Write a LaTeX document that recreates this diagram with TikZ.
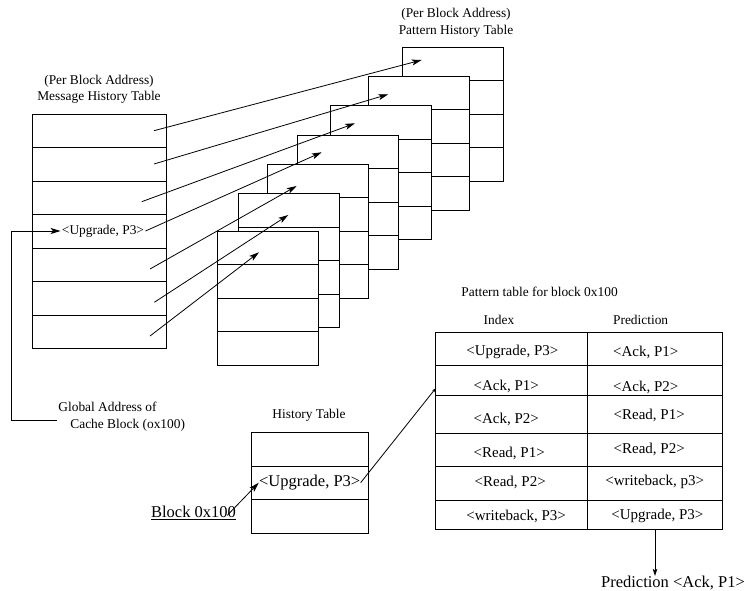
\documentclass[tikz,border=0pt]{standalone}
\usepackage{fontspec}
\setmainfont{Liberation Serif}
\usetikzlibrary{arrows.meta}

\begin{document}
\begin{tikzpicture}[x=1bp,y=-1bp,line width=.8bp,
  lbl/.style={inner sep=1bp,font=\fontsize{13.4bp}{16.5bp}\selectfont},
  cell/.style={inner sep=0pt,anchor=west,font=\fontsize{15bp}{18bp}\selectfont},
  big/.style={inner sep=0pt,font=\fontsize{16.5bp}{19bp}\selectfont},
  arr/.style={-{Stealth[length=10bp,width=6bp,inset=2.5bp]}},
  sarr/.style={-{Stealth[length=7bp,width=4.5bp,inset=1.5bp]}}]
\useasboundingbox (0,0) rectangle (745,591);

% message history table
\node[lbl,align=center] (mtitle) at (99,89.5) {(Per Block Address)\\Message History Table};
\draw (32,114) rectangle (166,348.5);
\foreach \r in {1,...,6}{\draw (32,114+33.5*\r)--(166,114+33.5*\r);}
\node[lbl] (mup) at (103,231) {<Upgrade, P3>};

% pattern history tables, back to front
\foreach \px/\py in {402/47,368.3/76.3,330.3/105.7,297/135,267.7/164.3,238.3/193.7,217.3/231.3}{
  \draw[fill=white] (\px,\py) rectangle ++(101,134);
  \foreach \k in {1,2,3}{\draw (\px,\py+33.5*\k)--++(101,0);}
}
\node[lbl,align=center] (ptitle) at (456,23) {(Per Block Address)\\Pattern History Table};

% one arrow per row
\foreach \n/\sx/\sy/\tx/\ty in {1/154/130.7/421.7/60,2/154/164/388.3/94.3,3/141.7/201.7/355/123.3,
  5/150/269/296.7/186,6/154.3/302.3/288.3/215,7/150/336/259/252.3}{
  \coordinate (ms\n) at (\sx,\sy); \coordinate (pt\n) at (\tx,\ty);
  \draw[arr] (ms\n)--(pt\n);}
\coordinate (pt4) at (321.7,152.3);
\draw[arr] (mup.east)--(pt4);

% global address
\node[lbl,align=left,anchor=west] (gaddr) at (57,416.7) {Global Address of\\\hspace*{12bp}Cache Block (ox100)};
\draw[arr] ([yshift=-3.3bp]gaddr.west) -- ++(-46,0) |- (mup.west);

% history table
\node[lbl] (htitle) at (309,415.7) {History Table};
\draw (251,432.7) rectangle (368.3,533.3);
\draw (251,466)--(368.3,466) (251,499.3)--(368.3,499.3);
\node[big] (hup) at (309.7,482.7) {<Upgrade, P3>};
\node[big,anchor=base west] (blk) at (150.7,517.3) {\underline{Block 0x100}};
\draw[arr] ([xshift=-9bp,yshift=2bp]blk.base east) -- (hup.west);

% pattern table
\node[lbl,anchor=west] (pttitle) at (460,291.7) {Pattern table for block 0x100};
\node[lbl,anchor=west] (idx) at (482.3,320) {Index};
\node[lbl,anchor=west] (prd) at (611.7,320) {Prediction};
\draw (435.7,332.3) rectangle (722.7,529);
\draw (587.7,332.3)--(587.7,529);
\foreach \r in {365.7,395.7,433.3,466,500}{\draw (435.7,\r)--(722.7,\r);}
\foreach \cx/\cy/\t [count=\i] in {466/352.3/{<Upgrade, P3>},473.3/386.7/{<Ack, P1>},473.3/419/{<Ack, P2>},
  473.3/453.3/{<Read, P1>},474.3/482.3/{<Read, P2>},466/516/{<writeback, P3>}}{
  \node[cell] (ix\i) at (\cx,\cy) {\t};}
\foreach \cx/\cy/\t [count=\i] in {612.7/352.7/{<Ack, P1>},612.7/387.3/{<Ack, P2>},613.3/415.7/{<Read, P1>},
  613.3/449/{<Read, P2>},605/482/{<writeback, p3>},611/515.7/{<Upgrade, P3>}}{
  \node[cell] (pr\i) at (\cx,\cy) {\t};}
\coordinate (ptin) at (435.7,388.3);
\draw[-{Stealth[length=4bp,width=3bp]}] (hup.east)--(ptin);

% prediction out
\coordinate (ptbot) at (655,529);
\node[big,anchor=west] (pred) at (600.7,583.3) {Prediction <Ack, P1>};
\draw[sarr] (ptbot)--(ptbot |- pred.north);
\end{tikzpicture}
\end{document}
